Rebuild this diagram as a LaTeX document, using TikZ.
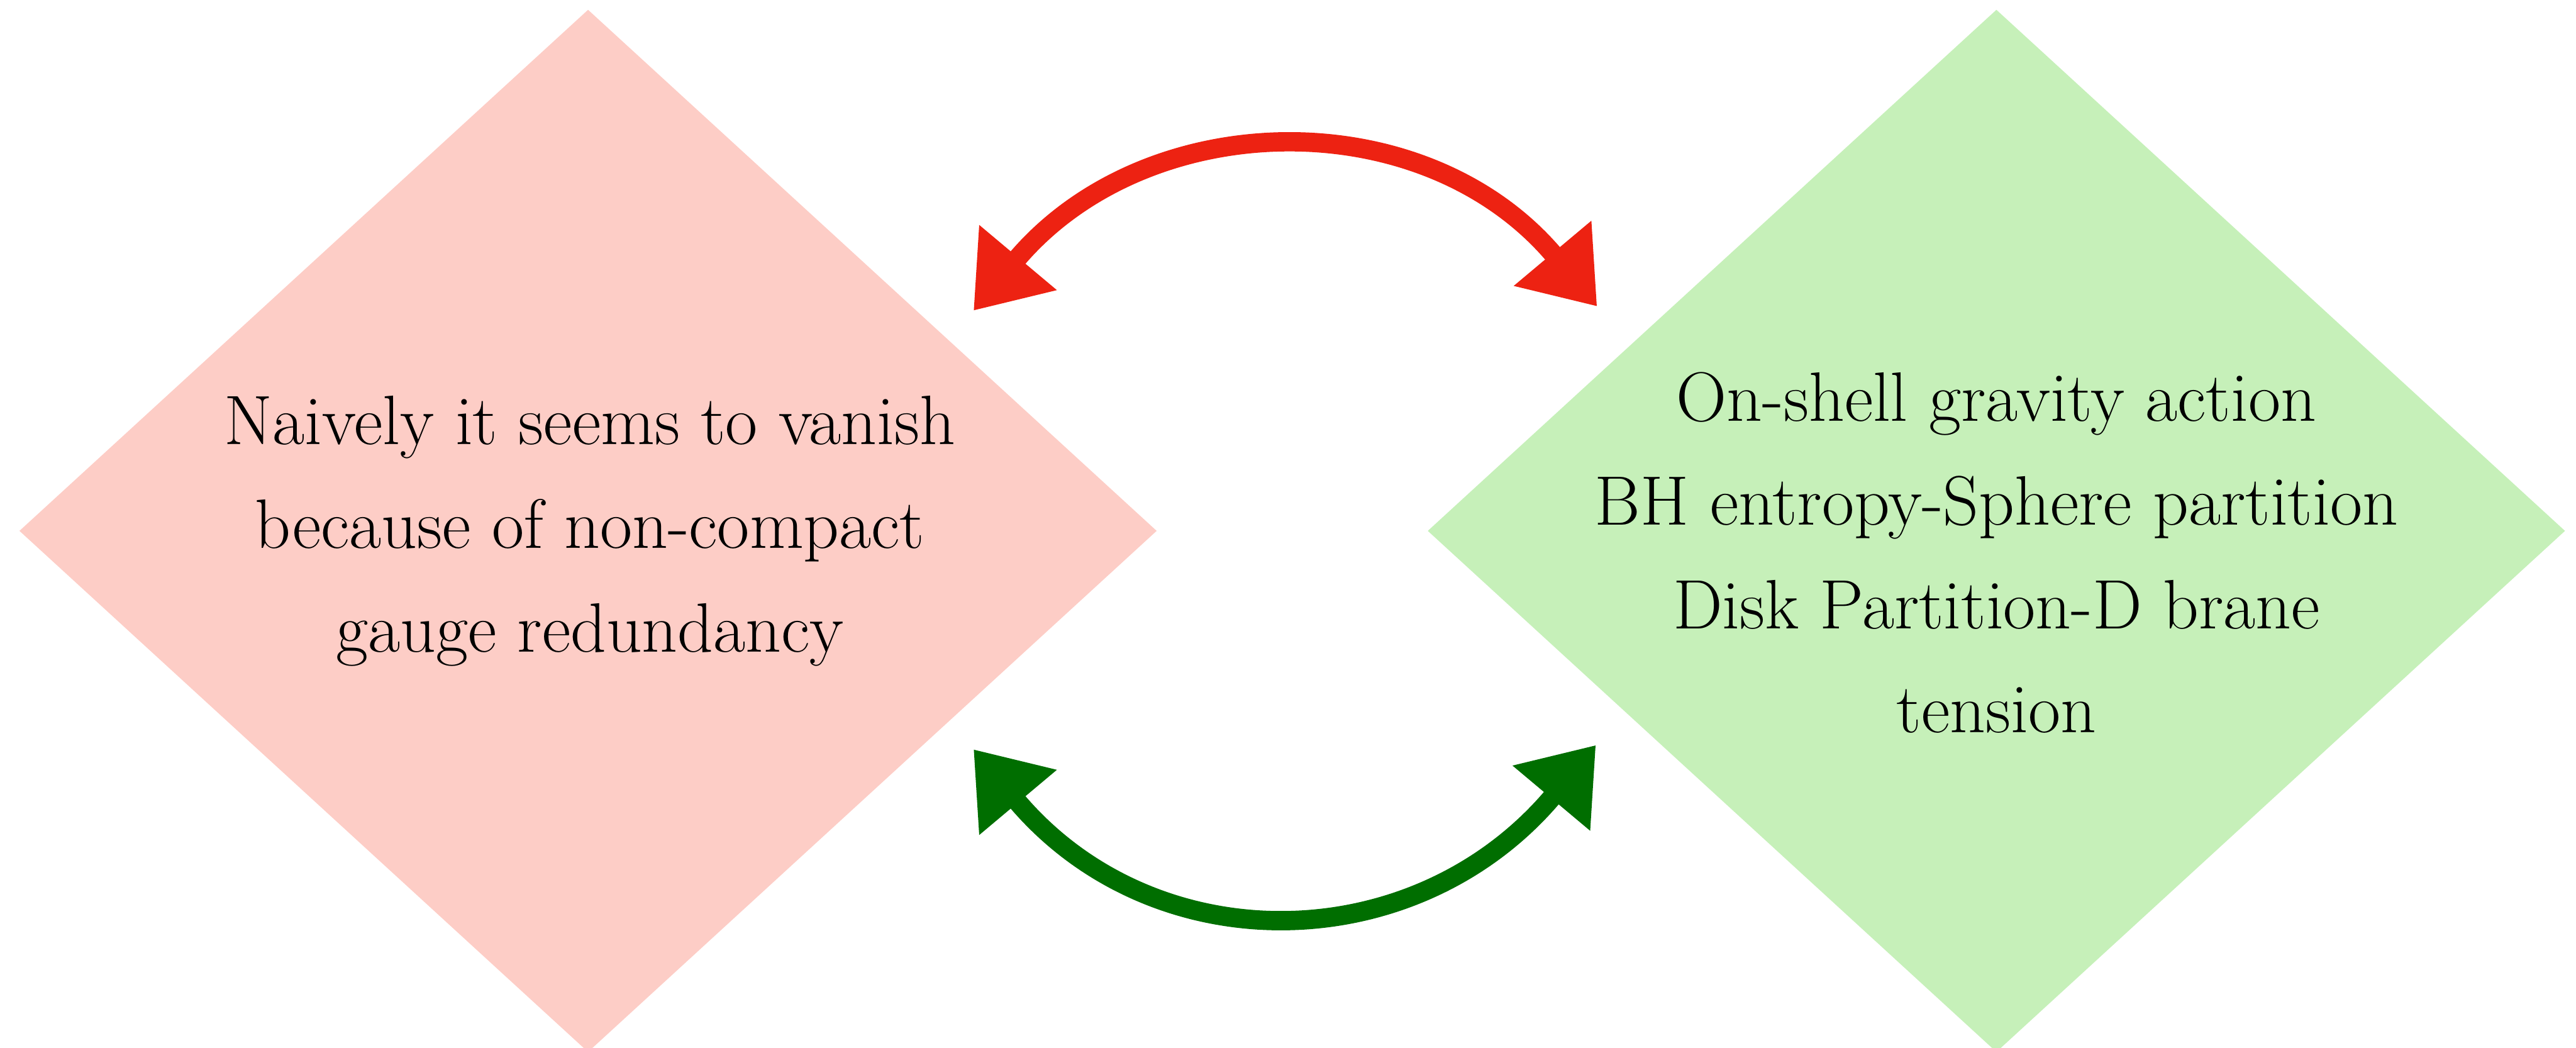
\documentclass[tikz,border=0pt]{standalone}
\usepackage{tikz}
\usetikzlibrary{shapes.geometric,arrows.meta}
\definecolor{pinkfill}{RGB}{253,205,198}
\definecolor{greenfill}{RGB}{198,240,185}
\definecolor{redarrow}{RGB}{237,34,18}
\definecolor{greenarrow}{RGB}{0,110,0}

\begin{document}
\begin{tikzpicture}[
		bigdiamond/.style={diamond, minimum width=18.86cm, minimum height=17.28cm, inner sep=0pt},
		boxtext/.style={align=center, font=\fontsize{33}{49}\selectfont},
		swaparrow/.style={line width=0.32cm, {Triangle[length=1.15cm,width=1.6cm]}-{Triangle[length=1.15cm,width=1.6cm]}}
	]
			%%%%% START %%%%%
			
			\useasboundingbox (0, 0) rectangle (42.71, 17.37);
			
			\node[bigdiamond, fill=pinkfill] (naive) at (9.75, 8.57) {};
			\node[bigdiamond, fill=greenfill] (onshell) at (33.10, 8.57) {};
			
			\node[boxtext] (naivetext) at (9.78, 8.57) {Naively it seems to vanish\\because of non-compact\\gauge redundancy};
			\node[boxtext] (onshelltext) at (33.10, 8.21) {On-shell gravity action\\BH entropy-Sphere partition\\Disk Partition-D brane\\tension};
			
			\coordinate (redleft) at (16.14, 12.22);
			\coordinate (redright) at (26.48, 12.29);
			\coordinate (greenleft) at (16.14, 4.95);
			\coordinate (greenright) at (26.46, 5.02);
			
			\draw[swaparrow, redarrow] (redleft) to[out=50, in=130, looseness=1.1] (redright);
			\draw[swaparrow, greenarrow] (greenleft) to[out=-50, in=-130, looseness=1.15] (greenright);
			
			%%%%% END %%%%%
\end{tikzpicture}
\end{document}
